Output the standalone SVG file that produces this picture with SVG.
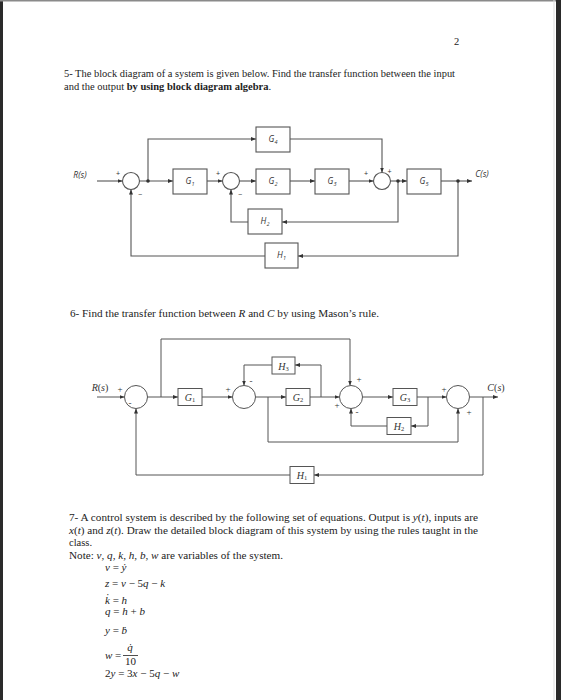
<svg xmlns="http://www.w3.org/2000/svg" width="561" height="700" viewBox="0 0 561 700">
<style>
.page{fill:#fff}
.txt{font-family:"Liberation Serif","Times New Roman",serif;font-size:10.5px;fill:#222}
.b{font-weight:bold}
.it{font-style:italic}
.eq{font-family:"Liberation Serif","Times New Roman",serif;font-size:11px;fill:#222}
.blk1{fill:#fff;stroke:#555;stroke-width:1.1}
.sum1{fill:#fff;stroke:#555;stroke-width:1.1}
.lab1{font-family:"Open Sans","DejaVu Sans",sans-serif;font-style:italic;font-size:8.5px;fill:#333;text-anchor:middle}
.sig1{font-family:"Liberation Sans",sans-serif;font-size:7px;fill:#333;text-anchor:middle}
.w1{fill:none;stroke:#555;stroke-width:1.1}
.blk2{fill:#fff;stroke:#555;stroke-width:1}
.sum2{fill:#fff;stroke:#555;stroke-width:1}
.lab2{font-family:"Liberation Serif","Times New Roman",serif;font-size:10px;fill:#333;text-anchor:middle}
.sig2{font-family:"Liberation Serif","Times New Roman",serif;font-size:9px;fill:#333;text-anchor:middle}
.w2{fill:none;stroke:#555;stroke-width:1}
.dot{fill:#333}
</style>
<defs>
<marker id="ah" viewBox="0 0 10 10" refX="10" refY="5" markerWidth="5" markerHeight="5" markerUnits="userSpaceOnUse" orient="auto">
<path d="M0,1 L10,5 L0,9 z" fill="#333"/>
</marker>
</defs>
<rect class="page" x="0" y="0" width="561" height="700"/>
<rect x="0" y="0" width="3" height="700" fill="#2a2a2a"/>
<rect x="0" y="0" width="561" height="1.5" fill="#8a8a8a"/>
<line x1="554" y1="0" x2="554" y2="700" stroke="#ddd" stroke-width="1"/>
<rect x="556" y="0" width="5" height="700" fill="#2a2a2a"/>

<text class="txt" x="454" y="45">2</text>
<text class="txt" x="64" y="76.5" textLength="391" lengthAdjust="spacingAndGlyphs">5- The block diagram of a system is given below. Find the transfer function between the input</text>
<text class="txt" x="64" y="90">and the output <tspan class="b">by using block diagram algebra</tspan>.</text>

<!-- Diagram 1 -->
<g id="d1-connectors">
<path class="w1" d="M97,181 H122.5" marker-end="url(#ah)"/>
<path class="w1" d="M139.5,181 H173" marker-end="url(#ah)"/>
<path class="w1" d="M148,181 V139 H256" marker-end="url(#ah)"/>
<path class="w1" d="M207,181 H222.5" marker-end="url(#ah)"/>
<path class="w1" d="M239.5,181 H256" marker-end="url(#ah)"/>
<path class="w1" d="M290,181 H315" marker-end="url(#ah)"/>
<path class="w1" d="M349,181 H373.5" marker-end="url(#ah)"/>
<path class="w1" d="M290,139 H382 V172.5" marker-end="url(#ah)"/>
<path class="w1" d="M390.5,181 H407" marker-end="url(#ah)"/>
<path class="w1" d="M398,181 V222 H282" marker-end="url(#ah)"/>
<path class="w1" d="M248,222 H231 V189.5" marker-end="url(#ah)"/>
<path class="w1" d="M441,181 H472" marker-end="url(#ah)"/>
<path class="w1" d="M458,181 V256 H298" marker-end="url(#ah)"/>
<path class="w1" d="M265,256 H131 V189.5" marker-end="url(#ah)"/>
<circle class="dot" cx="148" cy="181" r="1.8"/>
<circle class="dot" cx="398" cy="181" r="1.8"/>
<circle class="dot" cx="458" cy="181" r="1.8"/>
</g>
<text class="lab1" x="80" y="178">R(s)</text>
<text class="lab1" x="482" y="177">C(s)</text>
<g id="d1-S1"><circle class="sum1" cx="131" cy="181" r="8.5"/><text class="sig1" x="118" y="176">+</text><text class="sig1" x="140" y="197">−</text></g>
<g id="d1-G1"><rect class="blk1" x="173" y="169" width="34" height="25"/><text class="lab1" x="190" y="184">G<tspan font-size="5.5" dy="1.5">1</tspan></text></g>
<g id="d1-S2"><circle class="sum1" cx="231" cy="181" r="8.5"/><text class="sig1" x="218" y="176">+</text><text class="sig1" x="240" y="197">−</text></g>
<g id="d1-G4"><rect class="blk1" x="256" y="127" width="34" height="25"/><text class="lab1" x="273" y="142">G<tspan font-size="5.5" dy="1.5">4</tspan></text></g>
<g id="d1-G2"><rect class="blk1" x="256" y="169" width="34" height="25"/><text class="lab1" x="273" y="184">G<tspan font-size="5.5" dy="1.5">2</tspan></text></g>
<g id="d1-G3"><rect class="blk1" x="315" y="169" width="34" height="25"/><text class="lab1" x="332" y="184">G<tspan font-size="5.5" dy="1.5">3</tspan></text></g>
<g id="d1-S3"><circle class="sum1" cx="382" cy="181" r="8.5"/><text class="sig1" x="366" y="176">+</text><text class="sig1" x="389.5" y="173.5">+</text></g>
<g id="d1-G5"><rect class="blk1" x="407" y="169" width="34" height="25"/><text class="lab1" x="424" y="184">G<tspan font-size="5.5" dy="1.5">5</tspan></text></g>
<g id="d1-H2"><rect class="blk1" x="248" y="209" width="34" height="25"/><text class="lab1" x="265" y="224">H<tspan font-size="5.5" dy="1.5">2</tspan></text></g>
<g id="d1-H1"><rect class="blk1" x="265" y="243" width="33" height="25"/><text class="lab1" x="281.5" y="258">H<tspan font-size="5.5" dy="1.5">1</tspan></text></g>

<text class="txt" x="70" y="317" textLength="309" lengthAdjust="spacingAndGlyphs">6- Find the transfer function between <tspan class="it">R</tspan> and <tspan class="it">C</tspan> by using Mason’s rule.</text>

<!-- Diagram 2 -->
<g id="d2-connectors">
<path class="w2" d="M97,397 H124.5" marker-end="url(#ah)"/>
<path class="w2" d="M147.5,397 H178" marker-end="url(#ah)"/>
<path class="w2" d="M161,397 V339 H350 V385.5" marker-end="url(#ah)"/>
<path class="w2" d="M202,397 H232.5" marker-end="url(#ah)"/>
<path class="w2" d="M255.5,397 H286" marker-end="url(#ah)"/>
<path class="w2" d="M268,397 V442 H458 V408.5" marker-end="url(#ah)"/>
<path class="w2" d="M310,397 H339.5" marker-end="url(#ah)"/>
<path class="w2" d="M321,397 V365 H295" marker-end="url(#ah)"/>
<path class="w2" d="M272,365 H244 V385.5" marker-end="url(#ah)"/>
<path class="w2" d="M362.5,397 H393" marker-end="url(#ah)"/>
<path class="w2" d="M417,397 H446.5" marker-end="url(#ah)"/>
<path class="w2" d="M428,397 V426 H411" marker-end="url(#ah)"/>
<path class="w2" d="M387,426 H351 V408.5" marker-end="url(#ah)"/>
<path class="w2" d="M469.5,397 H498" marker-end="url(#ah)"/>
<path class="w2" d="M483,397 V475 H314" marker-end="url(#ah)"/>
<path class="w2" d="M290,475 H136 V408.5" marker-end="url(#ah)"/>
</g>
<text class="lab2" x="100" y="391"><tspan font-style="italic">R</tspan>(<tspan font-style="italic">s</tspan>)</text>
<text class="lab2" x="496" y="391"><tspan font-style="italic">C</tspan>(<tspan font-style="italic">s</tspan>)</text>
<g id="d2-SA"><circle class="sum2" cx="136" cy="397" r="11.5"/><text class="sig2" x="120" y="392">+</text><text class="sig2" x="130" y="406">-</text></g>
<g id="d2-G1"><rect class="blk2" x="178" y="388.5" width="24" height="17"/><text class="lab2" x="190" y="401"><tspan font-style="italic">G</tspan><tspan font-size="6.5" dy="1">1</tspan></text></g>
<g id="d2-SB"><circle class="sum2" cx="244" cy="397" r="11.5"/><text class="sig2" x="228" y="392">+</text><text class="sig2" x="251" y="384">-</text></g>
<g id="d2-H3"><rect class="blk2" x="272" y="357" width="23" height="17"/><text class="lab2" x="283.5" y="369.5"><tspan font-style="italic">H</tspan><tspan font-size="6.5" dy="1">3</tspan></text></g>
<g id="d2-G2"><rect class="blk2" x="286" y="388.5" width="24" height="17"/><text class="lab2" x="298" y="401"><tspan font-style="italic">G</tspan><tspan font-size="6.5" dy="1">2</tspan></text></g>
<g id="d2-SC"><circle class="sum2" cx="351" cy="397" r="11.5"/><text class="sig2" x="359" y="382">+</text><text class="sig2" x="337" y="408">+</text><text class="sig2" x="357" y="415">-</text></g>
<g id="d2-G3"><rect class="blk2" x="393" y="388.5" width="24" height="17"/><text class="lab2" x="405" y="401"><tspan font-style="italic">G</tspan><tspan font-size="6.5" dy="1">3</tspan></text></g>
<g id="d2-H2"><rect class="blk2" x="387" y="417.5" width="24" height="17"/><text class="lab2" x="399" y="430"><tspan font-style="italic">H</tspan><tspan font-size="6.5" dy="1">2</tspan></text></g>
<g id="d2-SD"><circle class="sum2" cx="458" cy="397" r="11.5"/><text class="sig2" x="444" y="392">+</text><text class="sig2" x="469" y="415">+</text></g>
<g id="d2-H1"><rect class="blk2" x="290" y="466.5" width="24" height="17"/><text class="lab2" x="302" y="479"><tspan font-style="italic">H</tspan><tspan font-size="6.5" dy="1">1</tspan></text></g>

<!-- Question 7 -->
<text class="txt" x="69" y="520.5" textLength="409" lengthAdjust="spacingAndGlyphs">7- A control system is described by the following set of equations. Output is <tspan class="it">y</tspan>(<tspan class="it">t</tspan>), inputs are</text>
<text class="txt" x="69" y="534" textLength="409" lengthAdjust="spacingAndGlyphs"><tspan class="it">x</tspan>(<tspan class="it">t</tspan>) and <tspan class="it">z</tspan>(<tspan class="it">t</tspan>). Draw the detailed block diagram of this system by using the rules taught in the</text>
<text class="txt" x="69" y="546">class.</text>
<text class="txt" x="69" y="558.5" textLength="214" lengthAdjust="spacingAndGlyphs">Note: <tspan class="it">v</tspan>, <tspan class="it">q</tspan>, <tspan class="it">k</tspan>, <tspan class="it">h</tspan>, <tspan class="it">b</tspan>, <tspan class="it">w</tspan> are variables of the system.</text>

<g id="equations">
<text class="eq" x="105" y="571"><tspan class="it">v</tspan> = <tspan class="it">ẏ</tspan></text>
<text class="eq" x="105" y="587"><tspan class="it">z</tspan> = <tspan class="it">v</tspan> − 5<tspan class="it">q</tspan> − <tspan class="it">k</tspan></text>
<text class="eq" x="105" y="603.5"><tspan class="it">k̇</tspan> = <tspan class="it">h</tspan></text>
<text class="eq" x="105" y="615"><tspan class="it">q</tspan> = <tspan class="it">h</tspan> + <tspan class="it">b</tspan></text>
<text class="eq" x="105" y="633.5"><tspan class="it">y</tspan> = <tspan class="it">ḃ</tspan></text>
<text class="eq" x="105" y="659"><tspan class="it">w</tspan> =</text>
<text class="eq" x="130" y="651" text-anchor="middle"><tspan class="it">q̇</tspan></text>
<line x1="123" y1="655.5" x2="138" y2="655.5" stroke="#222" stroke-width="0.8"/>
<text class="eq" x="130.5" y="665" text-anchor="middle">10</text>
<text class="eq" x="105" y="677">2<tspan class="it">y</tspan> = 3<tspan class="it">x</tspan> − 5<tspan class="it">q</tspan> − <tspan class="it">w</tspan></text>
</g>
</svg>
